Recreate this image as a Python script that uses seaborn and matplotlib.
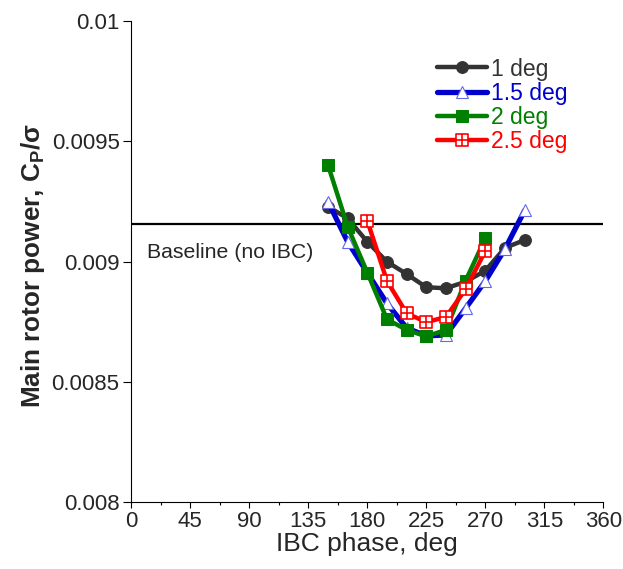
import matplotlib
matplotlib.use('Agg')
import matplotlib.pyplot as plt
import matplotlib.ticker as mticker
from matplotlib.path import Path
import numpy as np
import pandas as pd
import seaborn as sns

# IBC phase (deg) and main rotor power Cp/sigma
phase_1 = [150, 165, 180, 195, 210, 225, 240, 255, 270, 285, 300]
cp_1 = [0.009228, 0.009179, 0.009082, 0.008999, 0.008948, 0.008893,
        0.008889, 0.008916, 0.008962, 0.009057, 0.009089]

phase_15 = [150, 165, 180, 195, 210, 225, 240, 255, 270, 285, 300]
cp_15 = [0.009248, 0.009082, 0.008953, 0.008826, 0.008724, 0.008691,
         0.008695, 0.008806, 0.008919, 0.009052, 0.009212]

phase_2 = [150, 165, 180, 195, 210, 225, 240, 255, 270]
cp_2 = [0.009401, 0.009145, 0.008954, 0.008760, 0.008716, 0.008689,
        0.008716, 0.008921, 0.009096]

phase_25 = [180, 195, 210, 225, 240, 255, 270]
cp_25 = [0.009169, 0.008919, 0.008785, 0.008748, 0.008770, 0.008885, 0.009044]

labels = ['1 deg', '1.5 deg', '2 deg', '2.5 deg']
baseline = 0.009155

sns.set_style('ticks')
plt.rcParams['font.family'] = ['Liberation Sans', 'DejaVu Sans']
plt.rcParams['mathtext.fontset'] = 'custom'
plt.rcParams['mathtext.rm'] = 'Liberation Sans:bold'
plt.rcParams['mathtext.bf'] = 'Liberation Sans:bold'
plt.rcParams['mathtext.it'] = 'Liberation Sans:bold'

# square with a cross inside (open square-plus marker)
sq_plus = Path([(-1, -1), (1, -1), (1, 1), (-1, 1), (-1, -1),
                (0, -1), (0, 1), (-1, 0), (1, 0)],
               [Path.MOVETO, Path.LINETO, Path.LINETO, Path.LINETO, Path.CLOSEPOLY,
                Path.MOVETO, Path.LINETO, Path.MOVETO, Path.LINETO])

styles = [
    dict(color='#333333', marker='o', ms=8.5, mfc='#333333', mec='#333333', lw=3.2),
    dict(color='#0000CC', marker='^', ms=8, mfc='white', mec='#6666EE', mew=0.8, lw=3.8),
    dict(color='#008000', marker='s', ms=8.5, mfc='#008000', mec='#008000', lw=3.2),
    dict(color='#FF0000', marker=sq_plus, ms=9, mfc='white', mec='#FF0000', mew=1.2, lw=3.2),
]
series = [(phase_1, cp_1), (phase_15, cp_15), (phase_2, cp_2), (phase_25, cp_25)]

fig = plt.figure(figsize=(6.23, 5.69), dpi=100)
ax = fig.add_axes([0.2108, 0.1172, 0.7576, 0.8464])

for (xs, ys), lab, st in zip(series, labels, styles):
    df = pd.DataFrame({'phase': xs, 'cp': ys})
    sns.lineplot(data=df, x='phase', y='cp', ax=ax, label=lab, **st)

ax.axhline(baseline, color='black', lw=1.6, zorder=1)
ax.text(11.7, 0.009038, 'Baseline (no IBC)', fontsize=15.3, va='center', ha='left')

ax.set_xlim(0, 360)
ax.set_ylim(0.008, 0.01)
ax.xaxis.set_major_locator(mticker.MultipleLocator(45))
ax.xaxis.set_minor_locator(mticker.MultipleLocator(22.5))
ax.yaxis.set_major_locator(mticker.MultipleLocator(0.0005))
ax.yaxis.set_major_formatter(mticker.FuncFormatter(lambda v, p: f'{v:g}'))

ax.tick_params(axis='x', which='major', length=4, width=0.8, labelsize=16, pad=2, color='black')
ax.tick_params(axis='x', which='minor', length=2.5, width=0.8, color='black')
ax.tick_params(axis='y', which='major', length=5.5, width=0.8, labelsize=16, pad=3, color='black')
for s in ['top', 'right']:
    ax.spines[s].set_visible(False)
for s in ['left', 'bottom']:
    ax.spines[s].set_linewidth(0.8)
    ax.spines[s].set_color('black')

ax.set_xlabel('IBC phase, deg', fontsize=19, labelpad=0)
ax.set_ylabel('Main rotor power, $\\mathregular{C_P}$/σ', fontsize=18.8,
              fontweight='bold', labelpad=3)
ax.yaxis.label.set_y(0.4907)

leg = ax.legend(loc='upper left', bbox_to_anchor=(0.6477, 0.9236), frameon=False,
                fontsize=16.5, handlelength=2.2, handletextpad=0.15,
                labelspacing=0.05, borderpad=0, borderaxespad=0)
for txt, st in zip(leg.get_texts(), styles):
    txt.set_color(st['color'])

fig.savefig('out.png', dpi=100)
